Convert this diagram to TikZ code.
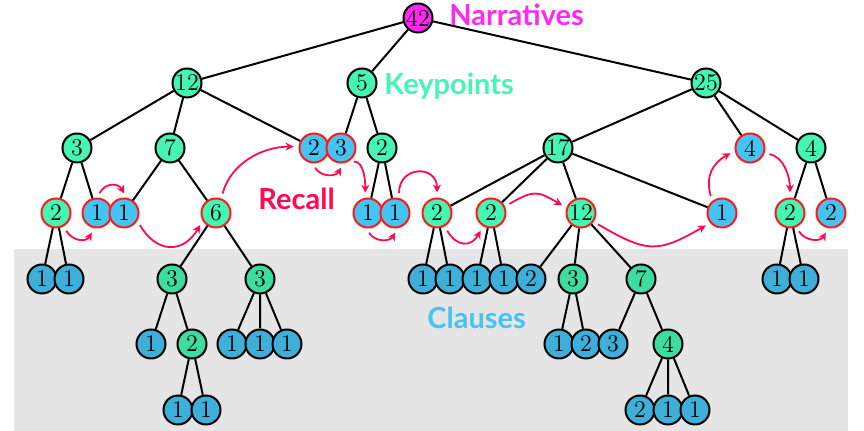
\documentclass[tikz,border=0pt]{standalone}
\usepackage{fontspec}
\newfontfamily\lblfont{Lato}
\usetikzlibrary{arrows.meta}

\definecolor{narr}{RGB}{255,40,240}
\definecolor{kpgreen}{RGB}{68,245,180}
\definecolor{clblue}{RGB}{69,195,242}
\definecolor{rcred}{RGB}{255,10,80}
\definecolor{hitred}{RGB}{255,25,25}

\tikzset{
	tn/.style={circle, draw, line width=1pt, minimum size=14.5pt, inner sep=0pt, font=\fontsize{12}{14}\selectfont},
	kp/.style={tn, fill=kpgreen},
	cl/.style={tn, fill=clblue},
	hit/.style={draw=hitred},
	recall/.style={draw=rcred, line width=0.9pt, -{Stealth[length=4pt,width=4pt]}, shorten <=2.5pt, shorten >=2.5pt},
	lbl/.style={anchor=base west, inner sep=0pt, font=\lblfont\bfseries\fontsize{14.5}{17}\selectfont}
}

\begin{document}
\begin{tikzpicture}[x=0.5pt, y=-0.5pt]
	\useasboundingbox (0,0) rectangle (864,431);
	% narrative
	\node[tn, fill=narr](n42) at (418,18) {42};
	% keypoints
	\node[kp](n12) at (187,83) {12};
	\node[kp](n5) at (362,83) {5};
	\node[kp](n25) at (706,83) {25};
	\node[kp](n3a) at (77,148) {3};
	\node[kp](n7a) at (170,148) {7};
	\node[cl, hit](n2a) at (314,148) {2};
	\node[cl, hit](n3b) at (341,148) {3};
	\node[kp](n2b) at (382,148) {2};
	\node[kp](n17) at (558,148) {17};
	\node[cl, hit](n4a) at (750,148) {4};
	\node[kp](n4b) at (811,148) {4};
	\node[kp, hit](n2c) at (56,213) {2};
	\node[cl, hit](n1a) at (97,213) {1};
	\node[cl, hit](n1b) at (124,213) {1};
	\node[kp, hit](n6) at (216,213) {6};
	\node[cl, hit](n1c) at (368,213) {1};
	\node[cl, hit](n1d) at (395,213) {1};
	\node[kp, hit](n2d) at (437,213) {2};
	\node[kp, hit](n2e) at (491,213) {2};
	\node[kp, hit](n12b) at (581,213) {12};
	\node[cl, hit](n1e) at (722,213) {1};
	\node[kp, hit](n2f) at (790,213) {2};
	\node[cl, hit](n2g) at (831,213) {2};
	% clauses
	\node[cl](n1f) at (42,279) {1};
	\node[cl](n1g) at (69,279) {1};
	\node[kp](n3c) at (172,279) {3};
	\node[kp](n3d) at (260,279) {3};
	\node[cl](n1h) at (423,279) {1};
	\node[cl](n1i) at (450,279) {1};
	\node[cl](n1j) at (477,279) {1};
	\node[cl](n1k) at (504,279) {1};
	\node[cl](n2h) at (531,279) {2};
	\node[kp](n3e) at (573,279) {3};
	\node[kp](n7b) at (641,279) {7};
	\node[cl](n1l) at (777,279) {1};
	\node[cl](n1m) at (804,279) {1};
	\node[cl](n1n) at (151,344) {1};
	\node[kp](n2i) at (192,344) {2};
	\node[cl](n1o) at (232,344) {1};
	\node[cl](n1p) at (260,344) {1};
	\node[cl](n1q) at (287,344) {1};
	\node[cl](n1r) at (559,344) {1};
	\node[cl](n2j) at (586,344) {2};
	\node[cl](n3f) at (613,344) {3};
	\node[kp](n4c) at (668,344) {4};
	\node[cl](n1s) at (178,410) {1};
	\node[cl](n1t) at (206,410) {1};
	\node[cl](n2k) at (640,410) {2};
	\node[cl](n1u) at (668,410) {1};
	\node[cl](n1v) at (695,410) {1};

	\begin{scope}[line width=1pt]
		\draw (n42) -- (n12) (n42) -- (n5) (n42) -- (n25);
		\draw (n12) -- (n3a) (n12) -- (n7a) (n12) -- (n2a);
		\draw (n5) -- (n3b) (n5) -- (n2b);
		\draw (n25) -- (n17) (n25) -- (n4a) (n25) -- (n4b);
		\draw (n3a) -- (n2c) (n3a) -- (n1a);
		\draw (n7a) -- (n1b) (n7a) -- (n6);
		\draw (n2b) -- (n1c) (n2b) -- (n1d);
		\draw (n17) -- (n2d) (n17) -- (n2e) (n17) -- (n12b) (n17) -- (n1e);
		\draw (n4b) -- (n2f) (n4b) -- (n2g);
		\draw (n2c) -- (n1f) (n2c) -- (n1g);
		\draw (n6) -- (n3c) (n6) -- (n3d);
		\draw (n2d) -- (n1h) (n2d) -- (n1i);
		\draw (n2e) -- (n1j) (n2e) -- (n1k);
		\draw (n12b) -- (n2h) (n12b) -- (n3e) (n12b) -- (n7b);
		\draw (n2f) -- (n1l) (n2f) -- (n1m);
		\draw (n3c) -- (n1n) (n3c) -- (n2i);
		\draw (n3d) -- (n1o) (n3d) -- (n1p) (n3d) -- (n1q);
		\draw (n3e) -- (n1r) (n3e) -- (n2j);
		\draw (n7b) -- (n3f) (n7b) -- (n4c);
		\draw (n2i) -- (n1s) (n2i) -- (n1t);
		\draw (n4c) -- (n2k) (n4c) -- (n1u) (n4c) -- (n1v);
	\end{scope}

	% recall path
	\draw[recall] (n2c.-60) to[out=-60, in=-120, looseness=1.4] (n1a.-100);
	\draw[recall] (n1a.90) to[out=60, in=120, looseness=1.5] (n1b.80);
	\draw[recall] (n1b.-30) to[out=-60, in=-120, looseness=1.5] (n6.-150);
	\draw[recall] (n6.70) to[out=75, in=180] (n2a.175);
	\draw[recall] (n2a.-95) to[out=-60, in=-120, looseness=1.3] (n3b.-80);
	\draw[recall] (n3b.-60) to[out=0, in=90] (n1c.100);
	\draw[recall] (n1c.-95) to[out=-60, in=-120, looseness=1.3] (n1d.-80);
	\draw[recall] (n1d.75) to[out=90, in=90, looseness=2.2] (n2d.90);
	\draw[recall] (n2d.-60) to[out=-60, in=-120, looseness=1.6] (n2e.-120);
	\draw[recall] (n2e.25) to[out=30, in=150, looseness=1.4] (n12b.160);
	\draw[recall] (n12b.-35) to[out=-30, in=-150, looseness=1.35] (n1e.-140);
	\draw[recall] (n1e.130) to[out=105, in=-150, looseness=1.2] (n4a.-170);
	\draw[recall] (n4a.-20) to[out=-10, in=90] (n2f.90);
	\draw[recall] (n2f.-65) to[out=-60, in=-120, looseness=1.3] (n2g.-100);

	% clause region
	\fill[black, fill opacity=0.1] (14,249) rectangle (848,431);

	\node[lbl, narr](tnarr) at (449,26) {Narratives};
	\node[lbl, kpgreen](tkey) at (384,95) {Keypoints};
	\node[lbl, rcred](trec) at (258,210) {Recall};
	\node[lbl, clblue](tcla) at (427,329) {Clauses};
\end{tikzpicture}
\end{document}
